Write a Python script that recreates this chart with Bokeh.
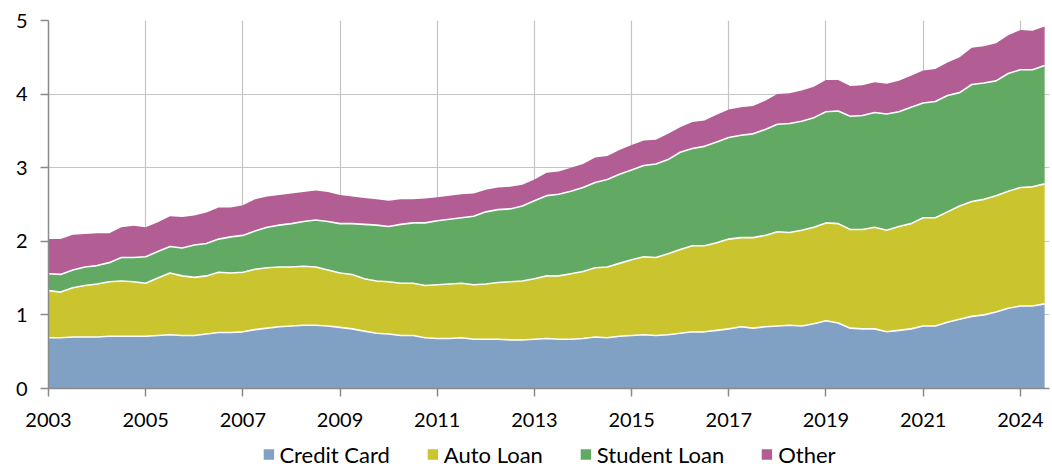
from bokeh.plotting import figure
from bokeh.layouts import column
from bokeh.models import ColumnDataSource, Range1d, FixedTicker, Legend, LegendItem
from bokeh.embed import file_html
from bokeh.resources import INLINE

# Quarterly data, starting 2003 Q1 (trillions of dollars)
start_year = 2003
credit_card = [0.69, 0.69, 0.70, 0.70, 0.70, 0.71, 0.71, 0.71, 0.71, 0.72,
               0.73, 0.72, 0.72, 0.74, 0.76, 0.76, 0.77, 0.80, 0.82, 0.84,
               0.85, 0.86, 0.86, 0.85, 0.83, 0.81, 0.78, 0.75, 0.74, 0.72,
               0.72, 0.69, 0.68, 0.68, 0.69, 0.67, 0.67, 0.67, 0.66, 0.66,
               0.67, 0.68, 0.67, 0.67, 0.68, 0.70, 0.69, 0.71, 0.72, 0.73,
               0.72, 0.73, 0.75, 0.77, 0.77, 0.79, 0.81, 0.84, 0.82, 0.84,
               0.85, 0.86, 0.85, 0.88, 0.92, 0.89, 0.82, 0.81, 0.81, 0.77,
               0.79, 0.81, 0.85, 0.85, 0.90, 0.94, 0.98, 1.00, 1.04, 1.09,
               1.12, 1.12, 1.15]
auto_loan = [0.64, 0.62, 0.67, 0.70, 0.72, 0.74, 0.75, 0.74, 0.72, 0.78,
             0.84, 0.81, 0.79, 0.79, 0.82, 0.81, 0.81, 0.82, 0.82, 0.81,
             0.80, 0.80, 0.79, 0.76, 0.74, 0.74, 0.71, 0.71, 0.71, 0.71,
             0.71, 0.71, 0.73, 0.74, 0.74, 0.74, 0.75, 0.77, 0.79, 0.80,
             0.82, 0.85, 0.86, 0.89, 0.91, 0.94, 0.96, 0.99, 1.03, 1.06,
             1.06, 1.10, 1.14, 1.17, 1.17, 1.19, 1.22, 1.21, 1.23, 1.24,
             1.28, 1.26, 1.30, 1.31, 1.33, 1.35, 1.34, 1.35, 1.38, 1.38,
             1.41, 1.43, 1.47, 1.47, 1.50, 1.54, 1.56, 1.57, 1.58, 1.59,
             1.61, 1.62, 1.63]
student_loan = [0.23, 0.24, 0.24, 0.25, 0.25, 0.26, 0.32, 0.33, 0.36, 0.36,
                0.36, 0.38, 0.44, 0.44, 0.45, 0.49, 0.50, 0.52, 0.55, 0.57,
                0.59, 0.61, 0.64, 0.66, 0.67, 0.69, 0.74, 0.76, 0.75, 0.80,
                0.82, 0.85, 0.87, 0.88, 0.89, 0.93, 0.98, 0.99, 0.99, 1.02,
                1.06, 1.09, 1.11, 1.12, 1.14, 1.16, 1.19, 1.21, 1.22, 1.24,
                1.27, 1.28, 1.32, 1.32, 1.35, 1.37, 1.38, 1.39, 1.41, 1.44,
                1.46, 1.48, 1.48, 1.49, 1.51, 1.53, 1.54, 1.55, 1.56, 1.58,
                1.56, 1.58, 1.56, 1.58, 1.58, 1.54, 1.59, 1.58, 1.56, 1.60,
                1.60, 1.59, 1.61]
other = [0.47, 0.48, 0.48, 0.45, 0.44, 0.40, 0.41, 0.43, 0.40, 0.40,
         0.41, 0.42, 0.40, 0.42, 0.43, 0.40, 0.41, 0.43, 0.42, 0.41,
         0.41, 0.40, 0.40, 0.40, 0.39, 0.37, 0.36, 0.35, 0.35, 0.34,
         0.32, 0.33, 0.32, 0.32, 0.32, 0.31, 0.30, 0.30, 0.30, 0.29,
         0.29, 0.31, 0.31, 0.32, 0.32, 0.34, 0.32, 0.33, 0.34, 0.34,
         0.33, 0.35, 0.34, 0.36, 0.35, 0.37, 0.38, 0.38, 0.38, 0.39,
         0.41, 0.41, 0.42, 0.42, 0.43, 0.42, 0.41, 0.41, 0.41, 0.41,
         0.42, 0.43, 0.44, 0.44, 0.45, 0.48, 0.50, 0.50, 0.51, 0.52,
         0.54, 0.53, 0.53]

series_names = ["Credit Card", "Auto Loan", "Student Loan", "Other"]
series_colors = ["#80A0C4", "#CAC42E", "#62AA64", "#B25E94"]
tick_years = [2003, 2005, 2007, 2009, 2011, 2013, 2015, 2017, 2019, 2021, 2023]
tick_labels = ["2003", "2005", "2007", "2009", "2011", "2013", "2015", "2017",
               "2019", "2021", "2024"]
y_ticks = [0, 1, 2, 3, 4, 5]

quarters = [start_year + i / 4 for i in range(len(credit_card))]
keys = ["cc", "auto", "student", "other"]
source = ColumnDataSource(dict(x=quarters, cc=credit_card, auto=auto_loan,
                               student=student_loan, other=other))

FONT = "Lato"

# ---- main chart ----
p = figure(frame_width=1001, frame_height=368,
           x_range=Range1d(2003, 2023.6), y_range=Range1d(0, 5),
           output_backend="svg", toolbar_location=None,
           min_border_left=48, min_border_right=3, min_border_top=20,
           min_border_bottom=52, border_fill_color="white")
p.outline_line_color = None
p.background_fill_color = "white"

p.varea_stack(stackers=keys, x="x", color=series_colors, source=source)
p.vline_stack(stackers=keys[:3], x="x", line_color="white", line_width=1.6,
              source=source)

p.xgrid.grid_line_color = "#C4C4C4"
p.ygrid.grid_line_color = "#C4C4C4"
p.xgrid.grid_line_width = 1.2
p.ygrid.grid_line_width = 1.2

for ax in (p.xaxis[0], p.yaxis[0]):
    ax.axis_line_color = "#8A8A8A"
    ax.axis_line_width = 1.5
    ax.major_tick_line_color = "#8A8A8A"
    ax.major_tick_line_width = 1.5
    ax.major_tick_in = 0
    ax.major_tick_out = 8
    ax.minor_tick_line_color = None
    ax.major_label_text_font = FONT
    ax.major_label_text_font_size = "20px"
    ax.major_label_text_color = "#000000"

p.xaxis.ticker = FixedTicker(ticks=tick_years)
p.xaxis.major_label_overrides = {y: l for y, l in zip(tick_years, tick_labels)}
p.xaxis.major_label_standoff = 16
p.yaxis.ticker = FixedTicker(ticks=y_ticks)
p.yaxis.major_label_standoff = 13

# ---- legend strip below the chart ----
# The strip's ranges are outside the data, so its stacked areas stay out of view
# and only serve as legend swatches.
lg = figure(width=1052, height=28, x_range=Range1d(0, 1), y_range=Range1d(0, 1),
            output_backend="svg", toolbar_location=None,
            x_axis_location=None, y_axis_location=None,
            min_border_left=45, min_border_right=0, min_border_top=0,
            min_border_bottom=0, border_fill_color="white")
lg.outline_line_color = None
lg.xgrid.visible = False
lg.ygrid.visible = False
swatches = lg.varea_stack(stackers=keys, x="x", color=series_colors, source=source)

legend = Legend(items=[LegendItem(label=n, renderers=[r]) for n, r in zip(series_names, swatches)],
                orientation="horizontal", location="center",
                glyph_width=13, glyph_height=13, label_standoff=5, spacing=36,
                label_text_font=FONT, label_text_font_size="22px",
                label_text_color="#000000", label_height=13,
                border_line_color=None, background_fill_alpha=0,
                padding=0, margin=0)
lg.add_layout(legend)

layout = column(p, lg, spacing=0)
open("out.html", "w").write(file_html(layout, INLINE))
